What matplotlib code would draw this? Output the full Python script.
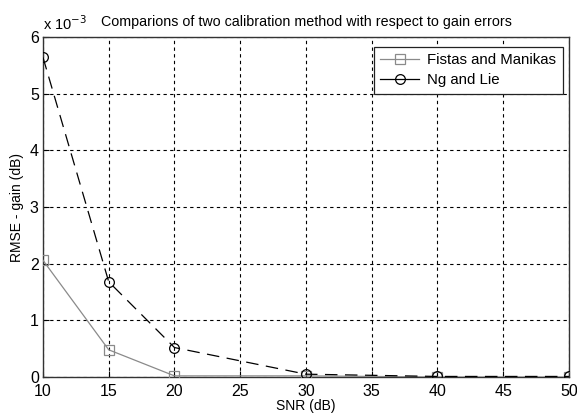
import matplotlib.pyplot as plt
from matplotlib.lines import Line2D
from matplotlib.ticker import FuncFormatter

plt.rcParams['font.family'] = ['Liberation Sans', 'DejaVu Sans']

# ---- data ----
snr = [10, 15, 20, 30, 40, 50]
fistas_manikas = [2.06e-3, 0.48e-3, 0.02e-3, 0.02e-3, 0.0, 0.0]
ng_lie = [5.64e-3, 1.68e-3, 0.52e-3, 0.05e-3, 0.01e-3, 0.01e-3]

fig = plt.figure(figsize=(5.77, 4.19), dpi=100)
ax = fig.add_axes([0.0745, 0.1002, 0.9115, 0.8115])

ax.plot(snr, fistas_manikas, color='#8a8a8a', lw=0.9, marker='s', ms=7,
        mfc='none', mec='#8a8a8a', mew=0.9, zorder=3)
ax.plot(snr, ng_lie, color='black', lw=0.9, ls=(0, (10, 6)), marker='o', ms=7,
        mfc='none', mec='black', mew=0.9, zorder=3)

ax.set_xlim(10, 50)
ax.set_ylim(0, 6e-3)
ax.set_xticks([10, 15, 20, 25, 30, 35, 40, 45, 50])
ax.set_yticks([i * 1e-3 for i in range(7)])
ax.yaxis.set_major_formatter(FuncFormatter(lambda v, p: '%g' % round(v * 1e3, 6)))
ax.grid(True, color='black', ls=(0, (3, 3)), lw=0.8)
ax.tick_params(direction='in', labelsize=11.5, length=4)
ax.tick_params(axis='x', pad=5)
ax.tick_params(axis='y', pad=3)
for s in ax.spines.values():
    s.set_color('#333333')
    s.set_linewidth(1.0)

ax.set_xlabel('SNR (dB)', fontsize=10, labelpad=0)
ax.set_ylabel('RMSE - gain (dB)', fontsize=10, labelpad=4)
ax.set_title('Comparions of two calibration method with respect to gain errors',
             fontsize=10.3, pad=8)
ax.text(0.0, 1.012, r'x 10$^{-3}$', transform=ax.transAxes, fontsize=10.5,
        ha='left', va='bottom')

handles = [
    Line2D([], [], color='#8a8a8a', lw=0.9, marker='s', ms=7, mfc='none', mew=0.9),
    Line2D([], [], color='black', lw=0.9, marker='o', ms=7, mfc='none', mew=0.9),
]
leg = ax.legend(handles, ['Fistas and Manikas', 'Ng and Lie'], loc='upper right',
                bbox_to_anchor=(0.988, 0.972), fontsize=10.8, fancybox=False,
                framealpha=1, edgecolor='#222222', handlelength=2.6,
                handletextpad=0.5, borderaxespad=0, labelspacing=0.4,
                borderpad=0.45)
leg.get_frame().set_linewidth(0.9)

fig.savefig('out.png', dpi=100)
